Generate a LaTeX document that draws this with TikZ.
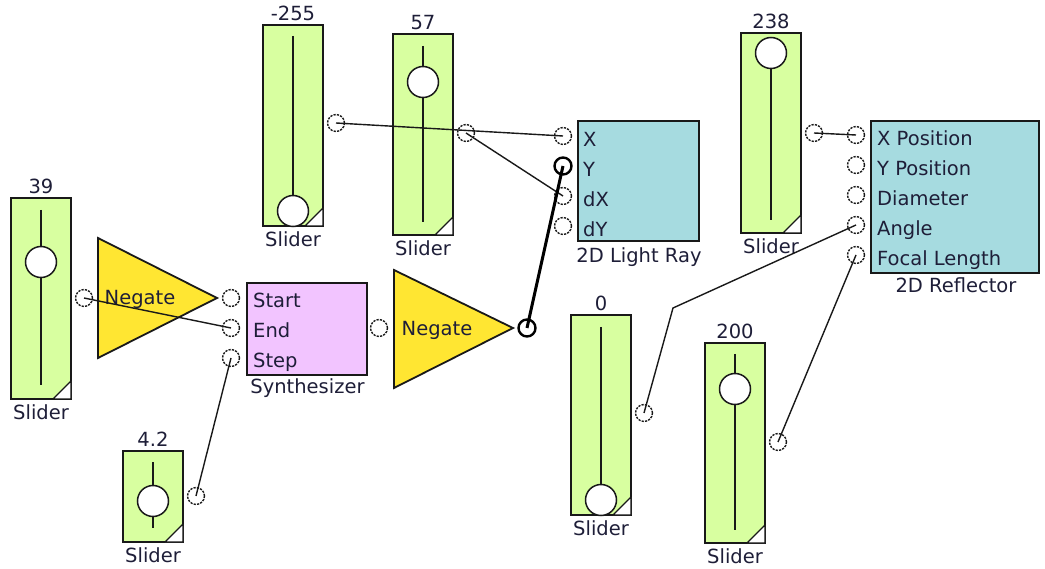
\documentclass[tikz,border=0pt]{standalone}
\usepackage{fontspec}
\setmainfont{DejaVu Sans}
\definecolor{slgreen}{RGB}{216,255,160}
\definecolor{negy}{RGB}{255,230,50}
\definecolor{synp}{RGB}{242,196,255}
\definecolor{blkteal}{RGB}{166,219,224}
\definecolor{txt}{RGB}{30,30,56}
\definecolor{ln}{RGB}{25,25,25}
\tikzset{
  lbl/.style={inner sep=0pt, text=txt, font=\fontsize{19.5}{22}\selectfont},
  sliderbox/.style={draw=ln, fill=slgreen, line width=1.8pt, minimum width=60pt, inner sep=0pt},
  blockbox/.style={draw=ln, line width=1.8pt},
  track/.style={draw=ln, line width=2pt},
  knob/.style={circle, draw=ln, fill=white, line width=1.5pt, minimum size=31pt, inner sep=0pt},
  port/.style={circle, draw=ln, fill=white, line width=1.4pt, dash pattern=on 2.2pt off 1.2pt, minimum size=17pt, inner sep=0pt},
  boldport/.style={circle, draw=black, fill=white, line width=2.4pt, minimum size=17pt, inner sep=0pt},
  wire/.style={draw=ln, line width=1.4pt},
  boldwire/.style={draw=black, line width=3pt},
}
\newcommand\mkslider[9]{%
  \node[sliderbox, minimum height={(#4-#3)*1pt}] (#1) at (#2,{(#3+#4)/2}) {};
  \draw[draw=ln, fill=white, line width=1.3pt] (#2+12,#4) -- (#2+30,#4-18) -- (#2+30,#4) -- cycle;
  \draw[track] (#2,#6) -- (#2,#7);
  \node[knob] (#1k) at (#2,#5) {};
  \node[lbl, anchor=base] (#1v) at (#2,#3-4.5) {#8};
  \node[lbl, anchor=base] (#1l) at (#2,#4+20.5) {Slider};
  \node[port] (#1o) at (#2+43,#9) {};
}
\begin{document}
\begin{tikzpicture}[x=1pt,y=-1pt]
\useasboundingbox[fill=white] (0,0) rectangle (1045,569);

% sliders
\mkslider{sa}{41}{198}{399}{262}{210}{385}{39}{298}
\mkslider{sb}{153}{451}{542}{501}{462}{528}{4.2}{496}
\mkslider{sc}{293}{25}{226}{211}{36}{196}{-255}{123}
\mkslider{sd}{423}{34}{235}{82}{46}{222}{57}{133}
\mkslider{se}{771}{33}{233}{53}{53}{220}{238}{133}
\mkslider{sf}{601}{315}{515}{500}{327}{495}{0}{413}
\mkslider{sg}{735}{343}{543}{389}{354}{530}{200}{442}

% Negate 1
\draw[blockbox, fill=negy] (98,238) -- (217,298) -- (98,358) -- cycle;
\node[lbl, anchor=base] (ng1) at (140,305) {Negate};

% Synthesizer
\draw[blockbox, fill=synp] (247,283) rectangle (367,375);
\node[lbl, anchor=base west] (synl1) at (253,308) {Start};
\node[lbl, anchor=base west] (synl2) at (253,338) {End};
\node[lbl, anchor=base west] (synl3) at (253,368) {Step};
\node[lbl, anchor=base] (synt) at (307.5,394) {Synthesizer};
\node[port] (synA) at (231,298) {};
\node[port] (synB) at (231,328) {};
\node[port] (synC) at (231,358) {};
\node[port] (synO) at (379,328) {};

% Negate 2
\draw[blockbox, fill=negy] (394,270) -- (513,328) -- (394,388) -- cycle;
\node[lbl, anchor=base] (ng2) at (437,336) {Negate};
\node[boldport] (ng2o) at (527,328) {};

% 2D Light Ray
\draw[blockbox, fill=blkteal] (578,121) rectangle (699,241);
\node[lbl, anchor=base west] (lrl1) at (583,147) {X};
\node[lbl, anchor=base west] (lrl2) at (583,177) {Y};
\node[lbl, anchor=base west] (lrl3) at (583,207) {dX};
\node[lbl, anchor=base west] (lrl4) at (583,237) {dY};
\node[lbl, anchor=base] (lrt) at (639,263) {2D Light Ray};
\node[port] (lrX) at (563,136) {};
\node[boldport] (lrY) at (563,166) {};
\node[port] (lrDX) at (563,196) {};
\node[port] (lrDY) at (563,226) {};

% 2D Reflector
\draw[blockbox, fill=blkteal] (871,121) rectangle (1039,273);
\node[lbl, anchor=base west] (rfl1) at (877,146) {X Position};
\node[lbl, anchor=base west] (rfl2) at (877,176) {Y Position};
\node[lbl, anchor=base west] (rfl3) at (877,206) {Diameter};
\node[lbl, anchor=base west] (rfl4) at (877,236) {Angle};
\node[lbl, anchor=base west] (rfl5) at (877,266) {Focal Length};
\node[lbl, anchor=base] (rft) at (956,293) {2D Reflector};
\node[port] (rfX) at (856,135) {};
\node[port] (rfY) at (856,165) {};
\node[port] (rfD) at (856,195) {};
\node[port] (rfA) at (856,225) {};
\node[port] (rfF) at (856,255) {};

\coordinate (bendA) at (673,308);

% wires
\draw[wire] (sao.center) -- (synB.center);
\draw[wire] (sbo.center) -- (synC.center);
\draw[wire] (sco.center) -- (lrX.center);
\draw[wire] (sdo.center) -- (lrDX.center);
\draw[wire] (seo.center) -- (rfX.center);
\draw[wire] (sfo.center) -- (bendA) -- (rfA.center);
\draw[wire] (sgo.center) -- (rfF.center);
\draw[boldwire] (ng2o.center) -- (lrY.center);
\end{tikzpicture}
\end{document}
